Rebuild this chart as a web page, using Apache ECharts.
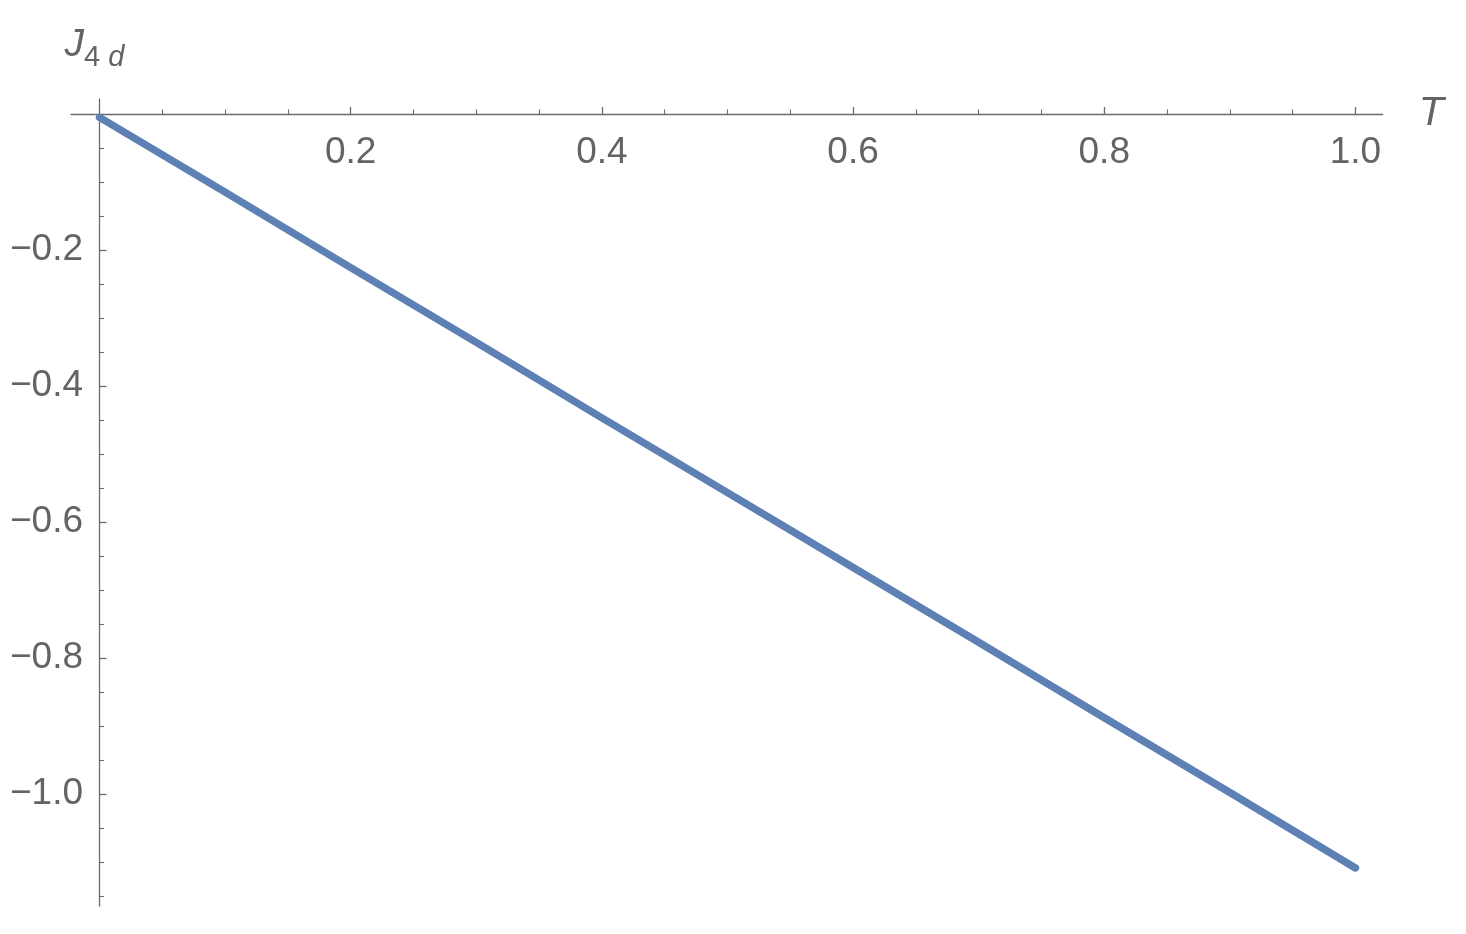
<!DOCTYPE html>
<html>
<head>
<meta charset="utf-8">
<script src="https://cdn.jsdelivr.net/npm/echarts@6/dist/echarts.min.js"></script>
<style>
  html, body { margin: 0; padding: 0; background: #fff; }
  #chart { width: 1466px; height: 934px; }
</style>
</head>
<body>
<div id="chart"></div>
<script>
// values
const tValues = [0, 0.1, 0.2, 0.3, 0.4, 0.5, 0.6, 0.7, 0.8, 0.9, 1.0];
const j4dValues = [-0.005, -0.115, -0.226, -0.336, -0.447, -0.557, -0.667, -0.777, -0.888, -0.998, -1.109];

// tick positions
const xMajorTicks = [0.2, 0.4, 0.6, 0.8, 1.0];
const xMinorTicks = [0.05, 0.1, 0.15, 0.25, 0.3, 0.35, 0.45, 0.5, 0.55, 0.65, 0.7, 0.75, 0.85, 0.9, 0.95];
const yMajorTicks = [-0.2, -0.4, -0.6, -0.8, -1.0];
const yMinorTicks = [-0.05, -0.1, -0.15, -0.25, -0.3, -0.35, -0.45, -0.5, -0.55, -0.65, -0.7, -0.75,
  -0.85, -0.9, -0.95, -1.05, -1.1, -1.15];

const AXIS_COLOR = '#6b6b6b';
const TEXT_COLOR = '#646464';
const FONT = 'Liberation Sans, Arial, sans-serif';

const X_MIN = -0.0227, X_MAX = 1.0217;
const Y_MIN = -1.165, Y_MAX = 0.022;

function fmtX(v) {
  return v.toFixed(1);
}
function fmtY(v) {
  return (v < 0 ? '\u2212' : '') + Math.abs(v).toFixed(1);
}

const chart = echarts.init(document.getElementById('chart'));

// labels stay at the grid edge even with onZero, so margins are measured from there
const option = {
  animation: false,
  backgroundColor: '#fff',
  grid: {
    left: 71,
    top: 99,
    width: 1311.7,
    height: 807,
    containLabel: false,
    outerBoundsMode: 'none'
  },
  xAxis: [
    {
      type: 'value',
      position: 'top',
      min: X_MIN,
      max: X_MAX,
      name: 'T',
      nameLocation: 'end',
      nameGap: 36,
      nameTextStyle: {
        fontFamily: FONT,
        fontStyle: 'italic',
        fontSize: 41,
        color: TEXT_COLOR,
        verticalAlign: 'middle',
        padding: [0, 0, 4, 0]
      },
      axisLine: { show: true, onZero: true, lineStyle: { color: AXIS_COLOR, width: 1.3 } },
      axisTick: {
        show: true,
        inside: false,
        length: 7,
        customValues: xMajorTicks,
        lineStyle: { color: AXIS_COLOR, width: 1.3 }
      },
      axisLabel: {
        show: true,
        inside: true,
        margin: 35,
        customValues: xMajorTicks,
        formatter: fmtX,
        fontFamily: FONT,
        fontSize: 37,
        color: TEXT_COLOR
      },
      splitLine: { show: false }
    },
    {
      type: 'value',
      position: 'top',
      min: X_MIN,
      max: X_MAX,
      axisLine: { show: false, onZero: true },
      axisTick: {
        show: true,
        inside: false,
        length: 4.5,
        customValues: xMinorTicks,
        lineStyle: { color: AXIS_COLOR, width: 1.1 }
      },
      axisLabel: { show: false },
      splitLine: { show: false }
    }
  ],
  yAxis: [
    {
      type: 'value',
      position: 'left',
      min: Y_MIN,
      max: Y_MAX,
      name: '{j|J}{n|4}{d| d}',
      nameLocation: 'end',
      nameGap: 27,
      nameTextStyle: {
        align: 'center',
        verticalAlign: 'bottom',
        padding: [0, 10, 0, 0],
        color: TEXT_COLOR,
        rich: {
          j: { fontFamily: FONT, fontStyle: 'italic', fontSize: 39, color: TEXT_COLOR, lineHeight: 46, verticalAlign: 'top' },
          n: { fontFamily: FONT, fontSize: 29, color: TEXT_COLOR, lineHeight: 46, verticalAlign: 'bottom' },
          d: { fontFamily: FONT, fontStyle: 'italic', fontSize: 29, color: TEXT_COLOR, lineHeight: 46, verticalAlign: 'bottom' }
        }
      },
      axisLine: { show: true, onZero: true, lineStyle: { color: AXIS_COLOR, width: 1.3 } },
      axisTick: {
        show: true,
        inside: true,
        length: 7,
        customValues: yMajorTicks,
        lineStyle: { color: AXIS_COLOR, width: 1.3 }
      },
      axisLabel: {
        show: true,
        inside: false,
        margin: -12,
        customValues: yMajorTicks,
        formatter: fmtY,
        fontFamily: FONT,
        fontSize: 37,
        color: TEXT_COLOR
      },
      splitLine: { show: false }
    },
    {
      type: 'value',
      position: 'left',
      min: Y_MIN,
      max: Y_MAX,
      axisLine: { show: false, onZero: true },
      axisTick: {
        show: true,
        inside: true,
        length: 4.5,
        customValues: yMinorTicks,
        lineStyle: { color: AXIS_COLOR, width: 1.1 }
      },
      axisLabel: { show: false },
      splitLine: { show: false }
    }
  ],
  series: [
    {
      type: 'line',
      xAxisIndex: 0,
      yAxisIndex: 0,
      showSymbol: false,
      silent: true,
      data: tValues.map((t, i) => [t, j4dValues[i]]),
      lineStyle: { color: '#5E81B5', width: 7.5, cap: 'round', join: 'round' }
    }
  ]
};

chart.setOption(option);
</script>
</body>
</html>
